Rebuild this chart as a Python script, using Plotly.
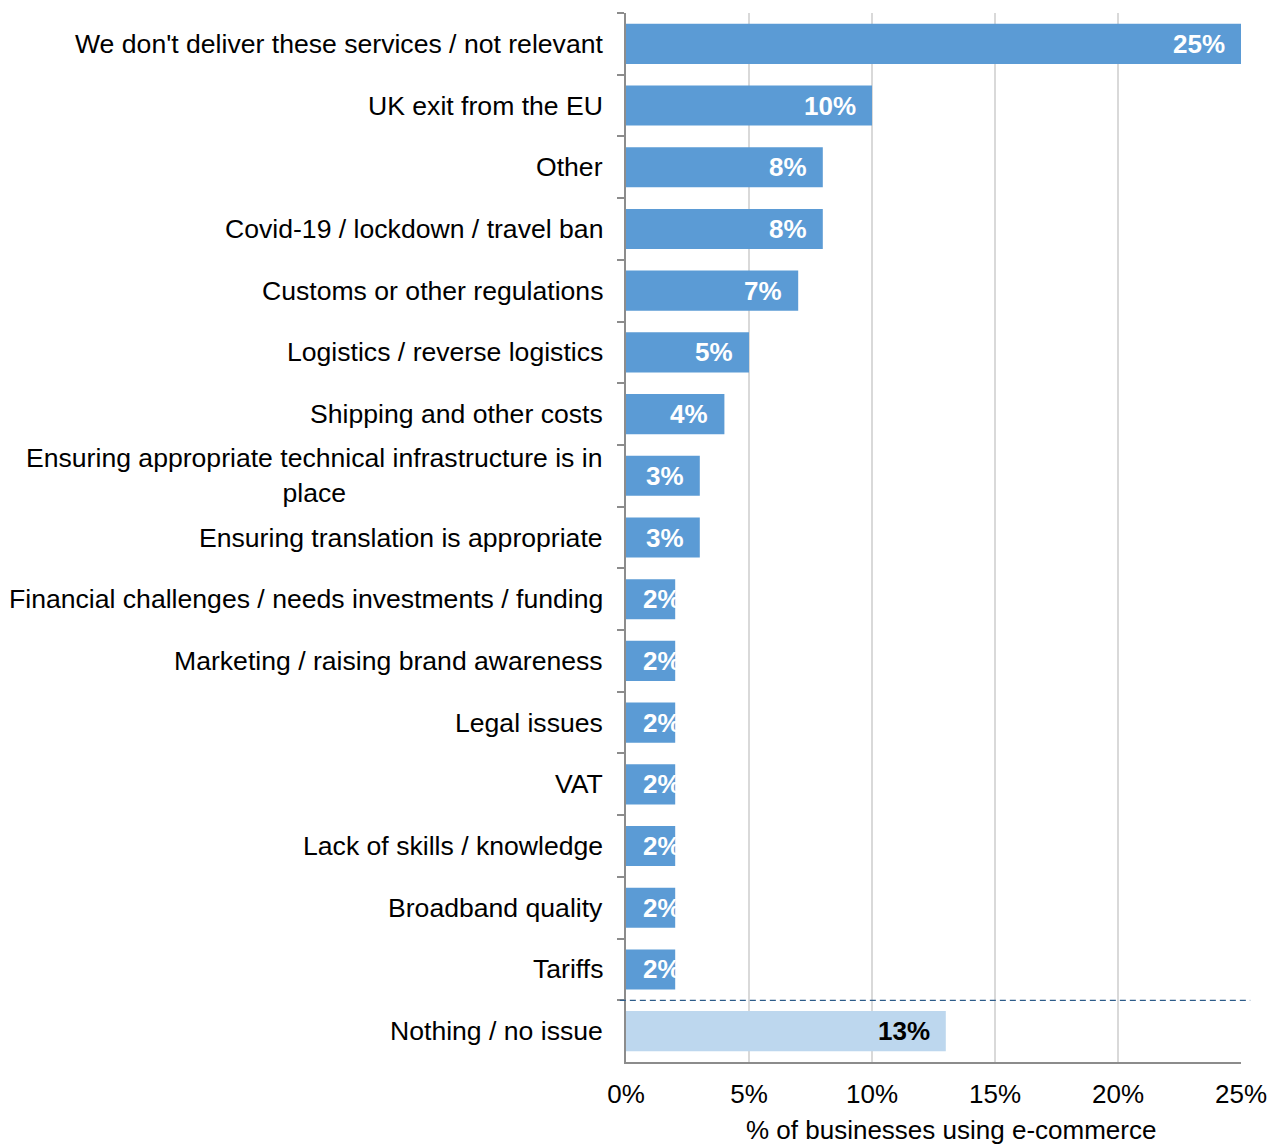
import plotly.graph_objects as go

# Barriers to selling online, share of e-commerce businesses (%)
categories = [
    "We don't deliver these services / not relevant",
    "UK exit from the EU",
    "Other",
    "Covid-19 / lockdown / travel ban",
    "Customs or other regulations",
    "Logistics / reverse logistics",
    "Shipping and other costs",
    "Ensuring appropriate technical infrastructure is in<br>place",
    "Ensuring translation is appropriate",
    "Financial challenges / needs investments / funding",
    "Marketing / raising brand awareness",
    "Legal issues",
    "VAT",
    "Lack of skills / knowledge",
    "Broadband quality",
    "Tariffs",
    "Nothing / no issue",
]
values = [25, 10, 8, 8, 7, 5, 4, 3, 3, 2, 2, 2, 2, 2, 2, 2, 13]
x_ticks = [0, 5, 10, 15, 20, 25]
x_tick_labels = ["0%", "5%", "10%", "15%", "20%", "25%"]

BLUE = "#5B9BD5"
LIGHT_BLUE = "#BDD7EE"
FONT = "Arial, Liberation Sans, sans-serif"
FS = 26
FS_CAT = 26.6

W, H = 1284, 1146
ML, MR, MT, MB = 626, 43, 13, 84
plot_w = W - ML - MR
px_per_unit = plot_w / 25

colors = [LIGHT_BLUE if c.startswith("Nothing") else BLUE for c in categories]

fig = go.Figure()
fig.add_trace(go.Bar(
    y=categories,
    x=values,
    orientation="h",
    marker=dict(color=colors, line=dict(width=0)),
    width=0.65,
    hoverinfo="skip",
))

annotations = []
# value labels placed near the bar end (or from the bar start if the bar is short)
for cat, v, col in zip(categories, values, colors):
    txt_color = "black" if col == LIGHT_BLUE else "white"
    label = f"{v}%"
    label_w = 0.5 * FS * len(label)
    if v * px_per_unit - 15 - label_w < 17:
        annotations.append(dict(
            x=0, y=cat, xref="x", yref="y", text=f"<b>{label}</b>",
            xanchor="left", xshift=15, showarrow=False,
            font=dict(family=FONT, size=FS, color=txt_color)))
    else:
        annotations.append(dict(
            x=v, y=cat, xref="x", yref="y", text=f"<b>{label}</b>",
            xanchor="right", xshift=-14, showarrow=False,
            font=dict(family=FONT, size=FS, color=txt_color)))

# category labels, centred within their right-aligned block
for cat in categories:
    annotations.append(dict(
        x=0, y=cat, xref="paper", yref="y", text=cat,
        xanchor="right", xshift=-21, align="center", showarrow=False,
        font=dict(family=FONT, size=FS_CAT, color="black")))

# axis title
annotations.append(dict(
    x=(951 - ML) / plot_w, y=0, xref="paper", yref="paper",
    text="% of businesses using e-commerce", showarrow=False,
    yanchor="middle", yshift=-68,
    font=dict(family=FONT, size=FS, color="black")))

fig.update_layout(
    width=W, height=H,
    margin=dict(l=ML, r=MR, t=MT, b=MB),
    paper_bgcolor="white", plot_bgcolor="white",
    showlegend=False,
    annotations=annotations,
    shapes=[dict(
        type="line", xref="paper", yref="y",
        x0=-0.01, x1=1.015, y0=15.5, y1=15.5,
        line=dict(color="#2E5C8A", width=1.2, dash="6px,4px"))],
)

fig.update_xaxes(
    range=[0, 25],
    tickvals=x_ticks, ticktext=x_tick_labels,
    tickfont=dict(family=FONT, size=FS, color="black"),
    showgrid=True, gridcolor="#D9D9D9", gridwidth=2,
    showline=True, linecolor="#8C8C8C", linewidth=2,
    ticks="", ticklabelstandoff=8,
    zeroline=False,
)
fig.update_yaxes(
    type="category",
    categoryorder="array", categoryarray=categories,
    autorange=False, range=[len(categories) - 0.5, -0.5],
    showticklabels=False,
    ticks="outside", tickson="boundaries", ticklen=7,
    tickcolor="#8C8C8C", tickwidth=2,
    showline=True, linecolor="#8C8C8C", linewidth=2,
    showgrid=False, zeroline=False,
)

fig.write_html("out.html")
